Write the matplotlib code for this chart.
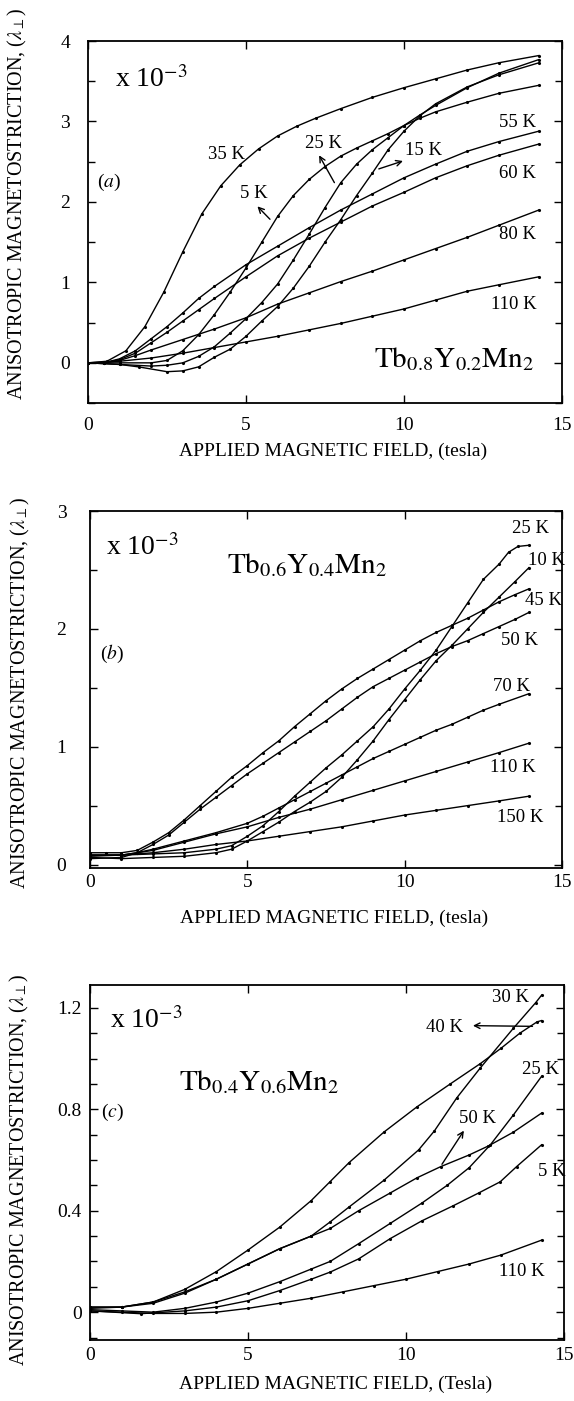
import matplotlib
matplotlib.use("Agg")
import matplotlib.pyplot as plt
from matplotlib.ticker import MultipleLocator, FuncFormatter

plt.rcParams['font.family'] = ['Liberation Serif', 'DejaVu Serif']
plt.rcParams['mathtext.fontset'] = 'stix'

# ---- panel (a): Tb0.8Y0.2Mn2 ----
A35_X = [0, 0.6, 1.2, 1.8, 2.4, 3.0, 3.6, 4.2, 4.8, 5.4, 6.0, 6.6, 7.2, 8.0, 9.0, 10.0, 11.0, 12.0, 13.0, 14.27]
A35_Y = [0, 0.02, 0.15, 0.45, 0.88, 1.38, 1.85, 2.2, 2.46, 2.66, 2.82, 2.94, 3.04, 3.16, 3.3, 3.42, 3.53, 3.64, 3.73, 3.82]
A5_X = [0, 1, 2, 2.5, 3, 3.5, 4, 4.5, 5, 5.5, 6, 6.5, 7, 7.5, 8, 8.5, 9, 9.5, 10, 10.5, 11, 12, 13, 14.27]
A5_Y = [0, 0, 0, 0.03, 0.15, 0.35, 0.6, 0.88, 1.18, 1.5, 1.82, 2.08, 2.28, 2.44, 2.57, 2.67, 2.76, 2.85, 2.95, 3.04, 3.12, 3.24, 3.35, 3.45]
A25_X = [0, 1, 2, 2.5, 3, 3.5, 4, 4.5, 5, 5.5, 6, 6.5, 7, 7.5, 8, 8.5, 9, 9.5, 10, 10.5, 11, 12, 13, 14.27]
A25_Y = [0, -0.02, -0.04, -0.03, 0, 0.08, 0.2, 0.37, 0.55, 0.75, 0.98, 1.28, 1.6, 1.93, 2.24, 2.47, 2.65, 2.8, 2.95, 3.08, 3.2, 3.42, 3.6, 3.77]
A15_X = [0, 1, 1.6, 2.5, 3, 3.5, 4, 4.5, 5, 5.5, 6, 6.5, 7, 7.5, 8, 8.5, 9, 9.5, 10, 10.5, 11, 12, 13, 14.27]
A15_Y = [0, -0.02, -0.05, -0.11, -0.1, -0.05, 0.07, 0.17, 0.33, 0.52, 0.7, 0.93, 1.2, 1.5, 1.78, 2.08, 2.36, 2.65, 2.88, 3.07, 3.22, 3.43, 3.58, 3.73]
A55_X = [0, 0.5, 1, 1.5, 2, 2.5, 3, 3.5, 4, 5, 6, 7, 8, 9, 10, 11, 12, 13, 14.27]
A55_Y = [0, 0, 0.05, 0.15, 0.3, 0.45, 0.62, 0.8, 0.95, 1.22, 1.45, 1.68, 1.9, 2.1, 2.3, 2.47, 2.63, 2.75, 2.88]
A60_X = A55_X
A60_Y = [0, 0, 0.04, 0.12, 0.25, 0.38, 0.52, 0.66, 0.8, 1.07, 1.33, 1.55, 1.75, 1.95, 2.12, 2.3, 2.45, 2.58, 2.72]
A80_X = [0, 0.5, 1, 1.5, 2, 3, 4, 5, 6, 7, 8, 9, 10, 11, 12, 13, 14.27]
A80_Y = [0, 0, 0.03, 0.09, 0.16, 0.29, 0.42, 0.56, 0.73, 0.87, 1.01, 1.14, 1.28, 1.42, 1.56, 1.71, 1.9]
A110_X = [0, 1, 2, 3, 4, 5, 6, 7, 8, 9, 10, 11, 12, 13, 14.27]
A110_Y = [0, 0.02, 0.06, 0.12, 0.19, 0.26, 0.33, 0.41, 0.49, 0.58, 0.67, 0.78, 0.89, 0.97, 1.07]

# ---- panel (b): Tb0.6Y0.4Mn2 ----
B25_X = [0, 1, 2, 3, 4, 4.5, 5, 5.5, 6, 6.5, 7, 7.5, 8, 8.5, 9, 9.5, 10, 10.5, 11, 11.5, 12, 12.5, 13, 13.3, 13.6, 13.95]
B25_Y = [0.08, 0.08, 0.09, 0.1, 0.13, 0.16, 0.24, 0.33, 0.45, 0.58, 0.7, 0.82, 0.93, 1.05, 1.17, 1.32, 1.49, 1.65, 1.82, 2.02, 2.22, 2.42, 2.55, 2.65, 2.7, 2.71]
B10_X = [0, 1, 2, 3, 4, 4.5, 5, 5.5, 6, 6.5, 7, 7.5, 8, 8.5, 9, 9.5, 10, 10.5, 11, 11.5, 12, 12.5, 13, 13.5, 13.95]
B10_Y = [0.06, 0.05, 0.06, 0.07, 0.1, 0.13, 0.2, 0.28, 0.36, 0.45, 0.53, 0.62, 0.74, 0.89, 1.05, 1.23, 1.4, 1.57, 1.73, 1.86, 2.0, 2.14, 2.27, 2.4, 2.52]
B45_X = [0, 0.5, 1, 1.5, 2, 2.5, 3, 3.5, 4, 4.5, 5, 5.5, 6, 6.5, 7, 7.5, 8, 8.5, 9, 9.5, 10, 10.5, 11, 11.5, 12, 12.5, 13, 13.5, 13.95]
B45_Y = [0.1, 0.1, 0.1, 0.12, 0.19, 0.27, 0.38, 0.5, 0.62, 0.74, 0.84, 0.95, 1.05, 1.17, 1.28, 1.39, 1.49, 1.58, 1.66, 1.74, 1.82, 1.9, 1.97, 2.03, 2.09, 2.16, 2.23, 2.29, 2.34]
B50_X = [0, 1, 1.5, 2, 2.5, 3, 3.5, 4, 4.5, 5, 5.5, 6, 6.5, 7, 7.5, 8, 8.5, 9, 9.5, 10, 10.5, 11, 11.5, 12, 12.5, 13, 13.5, 13.95]
B50_Y = [0.05, 0.06, 0.1, 0.17, 0.25, 0.36, 0.47, 0.57, 0.67, 0.77, 0.86, 0.95, 1.04, 1.13, 1.22, 1.32, 1.42, 1.51, 1.58, 1.65, 1.72, 1.79, 1.85, 1.9, 1.96, 2.02, 2.08, 2.14]
B70_X = [0, 1, 1.5, 2, 3, 4, 5, 5.5, 6, 6.5, 7, 7.5, 8, 8.5, 9, 9.5, 10, 10.5, 11, 11.5, 12, 12.5, 13, 13.95]
B70_Y = [0.07, 0.08, 0.1, 0.13, 0.2, 0.27, 0.35, 0.41, 0.48, 0.55, 0.62, 0.69, 0.76, 0.83, 0.9, 0.96, 1.02, 1.08, 1.14, 1.19, 1.25, 1.31, 1.36, 1.45]
B110_X = [0, 1, 2, 3, 4, 5, 6, 7, 8, 9, 10, 11, 12, 13, 13.95]
B110_Y = [0.08, 0.08, 0.12, 0.19, 0.26, 0.32, 0.4, 0.47, 0.55, 0.63, 0.71, 0.79, 0.87, 0.95, 1.03]
B150_X = [0, 1, 2, 3, 4, 5, 6, 7, 8, 9, 10, 11, 12, 13, 13.95]
B150_Y = [0.08, 0.08, 0.1, 0.13, 0.17, 0.2, 0.24, 0.28, 0.32, 0.37, 0.42, 0.46, 0.5, 0.54, 0.58]

# ---- panel (c): Tb0.4Y0.6Mn2 ----
C40_X = [0, 1, 2, 3, 4, 5, 6, 7, 7.6, 8.2, 9.3, 10.35, 11.4, 12.35, 13, 13.6, 14.15, 14.29]
C40_Y = [0.015, 0.02, 0.04, 0.09, 0.16, 0.245, 0.335, 0.44, 0.515, 0.59, 0.71, 0.81, 0.9, 0.98, 1.04, 1.1, 1.145, 1.15]
C30_X = [0, 1, 2, 3, 4, 5, 6, 7, 7.6, 8.2, 9.3, 10.4, 10.9, 11.6, 12.35, 13.4, 14.1, 14.29]
C30_Y = [0.02, 0.02, 0.04, 0.08, 0.13, 0.19, 0.25, 0.3, 0.356, 0.415, 0.52, 0.64, 0.715, 0.844, 0.963, 1.12, 1.22, 1.25]
C50_X = [0, 1, 2, 3, 4, 5, 6, 7, 7.6, 8.5, 9.5, 10.35, 11.1, 12, 12.6, 13.4, 14.29]
C50_Y = [0.02, 0.02, 0.035, 0.075, 0.13, 0.19, 0.25, 0.3, 0.33, 0.4, 0.47, 0.53, 0.574, 0.62, 0.655, 0.71, 0.785]
C25_X = [0, 1, 2, 3, 4, 5, 6, 7, 7.6, 8.5, 9.5, 10.5, 11.3, 12, 12.67, 13.4, 14.29]
C25_Y = [0.01, 0.005, 0.0, 0.015, 0.04, 0.075, 0.12, 0.17, 0.2, 0.27, 0.35, 0.43, 0.5, 0.57, 0.66, 0.778, 0.93]
C5_X = [0, 1.6, 3, 4, 5, 6, 7, 7.6, 8.5, 9.5, 10.5, 11.5, 12.3, 12.98, 13.5, 14.29]
C5_Y = [0.005, -0.006, 0.005, 0.02, 0.045, 0.085, 0.13, 0.158, 0.21, 0.29, 0.36, 0.42, 0.47, 0.514, 0.574, 0.66]
C110_X = [0, 1, 2, 3, 4, 5, 6, 7, 8, 9, 10, 11, 12, 13, 14.29]
C110_Y = [0.005, 0.0, -0.005, -0.005, 0.0, 0.015, 0.035, 0.055, 0.08, 0.105, 0.13, 0.16, 0.19, 0.225, 0.284]

YLABEL = r"ANISOTROPIC MAGNETOSTRICTION, ($\lambda_{\perp}$)"


def draw_curves(ax, curves):
    for xs, ys in curves:
        ax.plot(xs, ys, color='black', lw=1.0, marker='.', ms=2.5)


def style_axes(ax, ylim, major, minor, xlabel, ylab_y, xlab_y, fmt, xpad, ypad):
    ax.set_xlim(0, 15)
    ax.set_ylim(*ylim)
    ax.xaxis.set_major_locator(MultipleLocator(5))
    ax.yaxis.set_major_locator(MultipleLocator(major))
    ax.yaxis.set_minor_locator(MultipleLocator(minor))
    ax.yaxis.set_major_formatter(FuncFormatter(fmt))
    ax.tick_params(which='both', direction='in', top=True, right=True, width=1.0)
    ax.tick_params(which='major', length=6, labelsize=14)
    ax.tick_params(which='minor', length=5)
    ax.tick_params(axis='y', which='both', pad=ypad)
    ax.tick_params(axis='x', which='both', pad=xpad)
    for s in ax.spines.values():
        s.set_linewidth(1.3)
    ax.set_xlabel(xlabel, fontsize=14)
    ax.xaxis.set_label_coords(0.517, xlab_y)
    ax.text(-0.148, ylab_y, YLABEL, transform=ax.transAxes, rotation=90,
            fontsize=14.5, ha='center', va='center')


fmt_int = lambda v, p: f"{v:.0f}"
fmt_dec = lambda v, p: "0" if abs(v) < 1e-9 else f"{v:.1f}"

fig = plt.figure(figsize=(5.74, 14.01), dpi=100)

# (a)
ax = fig.add_axes([0.1533, 0.7123, 0.8258, 0.2584])
draw_curves(ax, [(A35_X, A35_Y), (A5_X, A5_Y), (A25_X, A25_Y), (A15_X, A15_Y),
                 (A55_X, A55_Y), (A60_X, A60_Y), (A80_X, A80_Y), (A110_X, A110_Y)])
style_axes(ax, (-0.5, 4.0), 1, 0.5, "APPLIED MAGNETIC FIELD, (tesla)", 0.55, -0.11, fmt_int, 10, 13)
ax.text(0.057, 0.873, r"x 10$^{-3}$", transform=ax.transAxes, fontsize=20, va='baseline')
ax.text(0.941, 0.10, r"$\mathrm{Tb_{0.8}Y_{0.2}Mn_2}$", transform=ax.transAxes, fontsize=21,
        ha='right', va='baseline')
ax.text(0.044, 0.61, r"($\it{a}$)", transform=ax.transAxes, fontsize=14, ha='center', va='center')
for t, x, y in [("35 K", 4.39, 2.59), ("5 K", 5.26, 2.11), ("25 K", 7.44, 2.73), ("15 K", 10.63, 2.64),
                ("55 K", 13.58, 2.99), ("60 K", 13.6, 2.35), ("80 K", 13.6, 1.6), ("110 K", 13.49, 0.73)]:
    ax.text(x, y, t, fontsize=13.5, ha='center', va='center')
for tail, head in [((5.82, 1.76), (5.30, 1.97)), ((7.84, 2.21), (7.27, 2.61)), ((9.12, 2.40), (10.05, 2.52))]:
    ax.annotate('', xy=head, xytext=tail, arrowprops=dict(arrowstyle='->', lw=1.0, color='black'))

# (b)
ax = fig.add_axes([0.1568, 0.3804, 0.8223, 0.2548])
draw_curves(ax, [(B25_X, B25_Y), (B10_X, B10_Y), (B45_X, B45_Y), (B50_X, B50_Y),
                 (B70_X, B70_Y), (B110_X, B110_Y), (B150_X, B150_Y)])
style_axes(ax, (-0.03, 3.0), 1, 0.5, "APPLIED MAGNETIC FIELD, (tesla)", 0.49, -0.118, fmt_int, 4, 17)
ax.text(0.034, 0.877, r"x 10$^{-3}$", transform=ax.transAxes, fontsize=20, va='baseline')
ax.text(0.29, 0.826, r"$\mathrm{Tb_{0.6}Y_{0.4}Mn_2}$", transform=ax.transAxes, fontsize=21,
        ha='left', va='baseline')
ax.text(0.046, 0.60, r"($\it{b}$)", transform=ax.transAxes, fontsize=14, ha='center', va='center')
for t, x, y in [("25 K", 14.01, 2.85), ("10 K", 14.5, 2.58), ("45 K", 14.42, 2.24), ("50 K", 13.66, 1.9),
                ("70 K", 13.4, 1.51), ("110 K", 13.45, 0.82), ("150 K", 13.66, 0.40)]:
    ax.text(x, y, t, fontsize=13.5, ha='center', va='center')

# (c)
ax = fig.add_axes([0.1568, 0.0435, 0.8258, 0.2534])
draw_curves(ax, [(C40_X, C40_Y), (C30_X, C30_Y), (C50_X, C50_Y), (C25_X, C25_Y),
                 (C5_X, C5_Y), (C110_X, C110_Y)])
style_axes(ax, (-0.11, 1.29), 0.4, 0.1, "APPLIED MAGNETIC FIELD, (Tesla)", 0.48, -0.1, fmt_dec, 5, 6)
ax.text(0.042, 0.879, r"x 10$^{-3}$", transform=ax.transAxes, fontsize=20, va='baseline')
ax.text(0.188, 0.704, r"$\mathrm{Tb_{0.4}Y_{0.6}Mn_2}$", transform=ax.transAxes, fontsize=21,
        ha='left', va='baseline')
ax.text(0.047, 0.64, r"($\it{c}$)", transform=ax.transAxes, fontsize=14, ha='center', va='center')
for t, x, y in [("30 K", 13.3, 1.24), ("40 K", 11.22, 1.123), ("25 K", 14.26, 0.956),
                ("50 K", 12.27, 0.762), ("5 K", 14.6, 0.554), ("110 K", 13.67, 0.162)]:
    ax.text(x, y, t, fontsize=13.5, ha='center', va='center')
ax.annotate('', xy=(12.03, 1.13), xytext=(14.09, 1.127),
            arrowprops=dict(arrowstyle='->', lw=1.0, color='black'))
ax.annotate('', xy=(11.88, 0.725), xytext=(11.09, 0.574),
            arrowprops=dict(arrowstyle='->', lw=1.0, color='black'))

fig.savefig("out.png", dpi=100)
